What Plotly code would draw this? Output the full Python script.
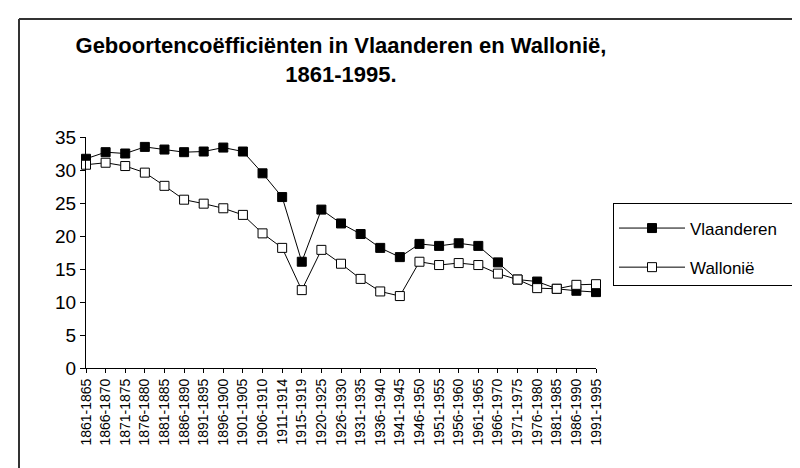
import plotly.graph_objects as go

periods = ["1861-1865", "1866-1870", "1871-1875", "1876-1880", "1881-1885", "1886-1890",
           "1891-1895", "1896-1900", "1901-1905", "1906-1910", "1911-1914", "1915-1919",
           "1920-1925", "1926-1930", "1931-1935", "1936-1940", "1941-1945", "1946-1950",
           "1951-1955", "1956-1960", "1961-1965", "1966-1970", "1971-1975", "1976-1980",
           "1981-1985", "1986-1990", "1991-1995"]

vlaanderen = [31.7, 32.7, 32.5, 33.5, 33.1, 32.7, 32.8, 33.4, 32.8, 29.5, 25.9, 16.1,
              24.0, 21.9, 20.3, 18.2, 16.8, 18.8, 18.5, 18.9, 18.5, 16.0, 13.4, 13.1,
              12.0, 11.7, 11.5]

wallonie = [30.8, 31.1, 30.6, 29.6, 27.6, 25.5, 24.9, 24.2, 23.2, 20.4, 18.2, 11.8,
            17.9, 15.8, 13.5, 11.6, 10.9, 16.1, 15.6, 15.9, 15.6, 14.3, 13.4, 12.1,
            12.0, 12.6, 12.7]

y_ticks = [0, 5, 10, 15, 20, 25, 30, 35]

FONT = "Liberation Sans, Arial, sans-serif"
NARROW = "Liberation Sans Narrow, Arial Narrow, Liberation Sans, Arial, sans-serif"

fig = go.Figure()
fig.add_trace(go.Scatter(
    x=periods, y=vlaanderen, name="Vlaanderen\u00a0\u00a0", mode="lines+markers",
    line=dict(color="black", width=1), cliponaxis=False,
    marker=dict(symbol="square", size=9, color="black", line=dict(color="black", width=1)),
    legendgroup="a",
))
fig.add_trace(go.Scatter(
    x=periods, y=wallonie, name="Wallonië", mode="lines+markers",
    line=dict(color="black", width=1), cliponaxis=False,
    marker=dict(symbol="square", size=9, color="white", line=dict(color="black", width=1)),
    legendgroup="b",
))

W, H = 800, 468
L, R, T, B = 78, 212, 129, 108
pw, ph = W - L - R, H - T - B

def px(x):
    return (x - L) / pw

def py(y):
    return (H - B - y) / ph

fig.update_layout(
    width=W, height=H,
    margin=dict(l=L, r=R, t=T, b=B),
    paper_bgcolor="white", plot_bgcolor="white",
    font=dict(family=FONT, color="black"),
    title=dict(
        text="<b>Geboortencoëfficiënten in Vlaanderen en Wallonië,<br>1861-1995.</b>",
        font=dict(family=NARROW, size=22, color="black"),
        x=333 / W, xanchor="center", xref="container",
        y=1 - 45 / H, yanchor="top", yref="container",
    ),
    xaxis=dict(
        range=[0, len(periods) - 1], showgrid=False, zeroline=False,
        showline=True, linecolor="black", linewidth=1,
        ticks="outside", ticklen=4, tickcolor="black",
        tickangle=-90, tickfont=dict(size=14, family=FONT),
    ),
    yaxis=dict(
        range=[0, 35], tickvals=y_ticks, showgrid=False, zeroline=False,
        showline=True, linecolor="black", linewidth=1,
        ticks="outside", ticklen=5, tickcolor="black",
        tickfont=dict(size=19, family=FONT),
    ),
    legend=dict(
        x=px(605), y=py(195), xanchor="left", yanchor="top",
        bordercolor="black", borderwidth=1, bgcolor="white",
        font=dict(size=17, family=FONT),
        title=dict(text=" ", font=dict(size=5)),
        traceorder="grouped", tracegroupgap=14, itemwidth=66,
    ),
    showlegend=True,
)

# frame of the scanned figure (left and top edges)
fig.add_shape(type="line", xref="paper", yref="paper",
              x0=px(11), x1=px(802), y0=py(11), y1=py(11),
              line=dict(color="#333333", width=2))
fig.add_shape(type="line", xref="paper", yref="paper",
              x0=px(11), x1=px(11), y0=py(11), y1=py(470),
              line=dict(color="#333333", width=2))

fig.write_html("out.html")
